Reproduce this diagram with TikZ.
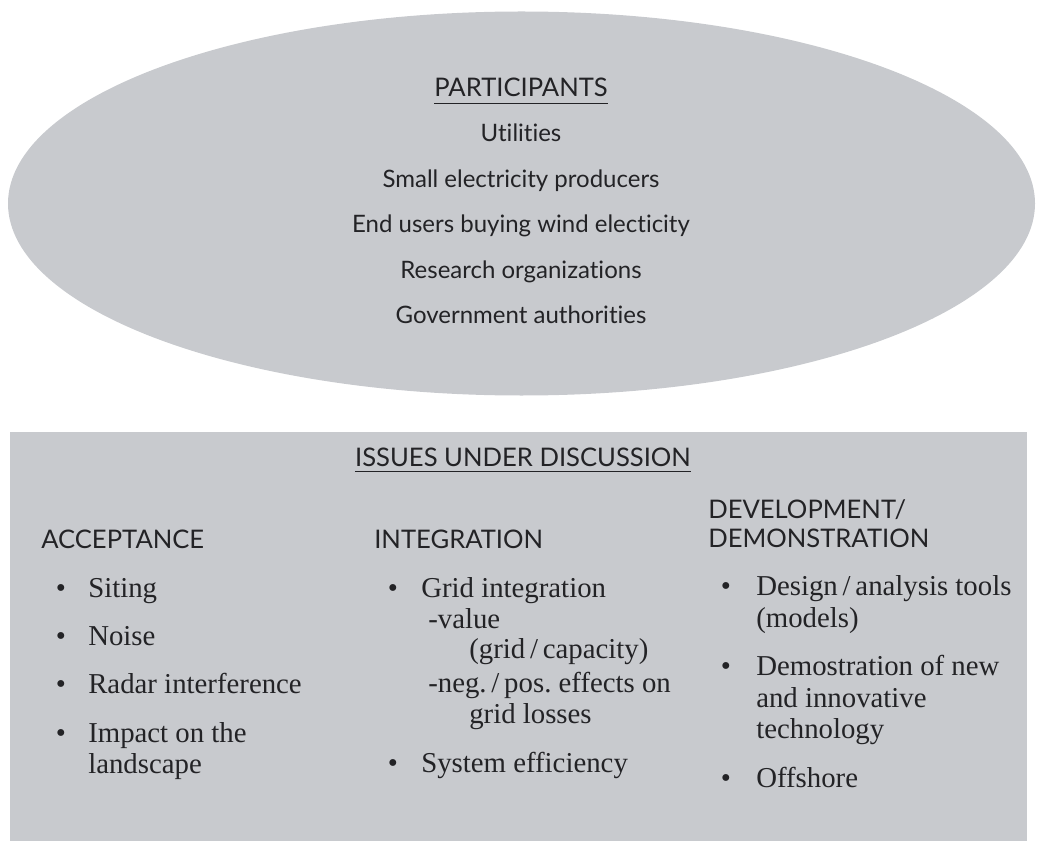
\documentclass[tikz,border=0pt]{standalone}
\usepackage{fontspec}
\setmainfont{Liberation Serif}
\newfontfamily\headfont[Ligatures=NoCommon]{Lato}
\usetikzlibrary{shapes.geometric}
\definecolor{panelgray}{RGB}{200,202,206}
\definecolor{ink}{RGB}{35,35,38}
\frenchspacing
\begin{document}
\begin{tikzpicture}[x=0.75pt,y=-0.75pt,
  txt/.style={inner sep=0pt, text=ink},
  head/.style={txt, font=\headfont\fontsize{19.2}{23}\selectfont},
  entry/.style={txt, anchor=base, font=\headfont\fontsize{18}{22}\selectfont},
  body/.style={txt, font=\fontsize{21.6}{25}\selectfont},
  dot/.style={body, anchor=base},
  item/.style={body, anchor=base west},
  rule/.style={draw=ink, line width=0.8pt}
  ]
\useasboundingbox (0,0) rectangle (1037,841);

% shaded containers
\node[ellipse, fill=panelgray, minimum width=770.25pt, minimum height=288pt, inner sep=0pt] (oval) at (521.5,203.5) {};
\node[rectangle, fill=panelgray, minimum width=762.75pt, minimum height=306.75pt, inner sep=0pt] (panel) at (518.5,636.5) {};

% participants
\node[head, anchor=base] (ptitle) at (521,97) {PARTICIPANTS};
\draw[rule] ([yshift=-5pt]ptitle.base west) -- ([yshift=-5pt]ptitle.base east);
\node[entry] (p1) at (521,142) {Utilities};
\node[entry] (p2) at (521,188) {Small electricity producers};
\node[entry] (p3) at (521,233) {End users buying wind electicity};
\node[entry] (p4) at (521,278) {Research organizations};
\node[entry] (p5) at (521,323) {Government authorities};

% issues
\node[head, anchor=base] (ititle) at (523,466) {ISSUES UNDER DISCUSSION};
\draw[rule] ([yshift=-4.3pt]ititle.base west) -- ([yshift=-4.3pt]ititle.base east);

% acceptance column
\node[head, anchor=base west] (acc) at (41,548) {ACCEPTANCE};
\node[dot] (a1b) at (61,597) {\textbullet};
\node[item] (a1) at (88,597) {Siting};
\node[dot] (a2b) at (61,645) {\textbullet};
\node[item] (a2) at (88,645) {Noise};
\node[dot] (a3b) at (61,693) {\textbullet};
\node[item] (a3) at (88,693) {Radar interference};
\node[dot] (a4b) at (61,742) {\textbullet};
\node[item] (a4) at (88,742) {Impact on the};
\node[item] (a4x) at (88,773) {landscape};

% integration column
\node[head, anchor=base west] (integ) at (374,548) {INTEGRATION};
\node[dot] (i1b) at (393,597) {\textbullet};
\node[item] (i1) at (421,597) {Grid integration};
\node[item] (i1a) at (428,628) {-value};
\node[item] (i1b2) at (469,658) {(grid\,/\,capacity)};
\node[item] (i1c) at (428,692) {-neg.\,/\,pos. effects on};
\node[item] (i1d) at (469,723) {grid losses};
\node[dot] (i2b) at (393,772) {\textbullet};
\node[item] (i2) at (421,772) {System efficiency};

% development column
\node[head, anchor=base west] (dev) at (708,518) {DEVELOPMENT/};
\node[head, anchor=base west] (demo) at (708,547) {DEMONSTRATION};
\node[dot] (d1b) at (726,595) {\textbullet};
\node[item] (d1) at (756,595) {Design\,/\,analysis tools};
\node[item] (d1x) at (756,627) {(models)};
\node[dot] (d2b) at (726,675) {\textbullet};
\node[item] (d2) at (756,675) {Demostration of new};
\node[item] (d2x) at (756,707) {and innovative};
\node[item] (d2y) at (756,738) {technology};
\node[dot] (d3b) at (726,787) {\textbullet};
\node[item] (d3) at (756,787) {Offshore};
\end{tikzpicture}
\end{document}
